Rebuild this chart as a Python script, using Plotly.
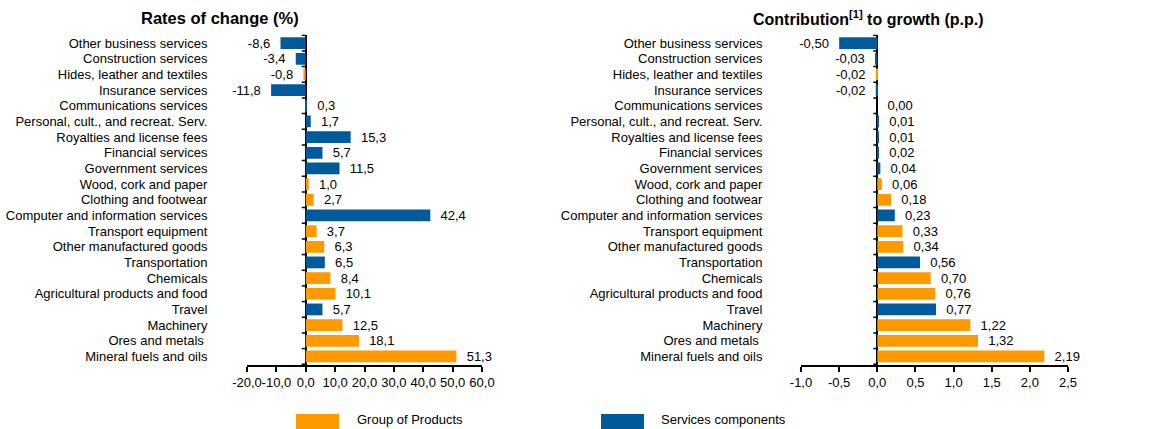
import plotly.graph_objects as go

categories = [
    "Other business services", "Construction services", "Hides, leather and textiles",
    "Insurance services", "Communications services", "Personal, cult., and recreat. Serv.",
    "Royalties and license fees", "Financial services", "Government services",
    "Wood, cork and paper", "Clothing and footwear", "Computer and information services",
    "Transport equipment", "Other manufactured goods", "Transportation", "Chemicals",
    "Agricultural products and food", "Travel", "Machinery", "Ores and metals ",
    "Mineral fuels and oils",
]
groups = ["S", "S", "P", "S", "S", "S", "S", "S", "S", "P", "P", "S",
          "P", "P", "S", "P", "P", "S", "P", "P", "P"]
rates = [-8.6, -3.4, -0.8, -11.8, 0.3, 1.7, 15.3, 5.7, 11.5, 1.0, 2.7, 42.4,
         3.7, 6.3, 6.5, 8.4, 10.1, 5.7, 12.5, 18.1, 51.3]
contrib = [-0.50, -0.03, -0.02, -0.02, 0.00, 0.01, 0.01, 0.02, 0.04, 0.06, 0.18, 0.23,
           0.33, 0.34, 0.56, 0.70, 0.76, 0.77, 1.22, 1.32, 2.19]

left_ticks = [-20, -10, 0, 10, 20, 30, 40, 50, 60]
left_ticktext = ["-20,0", "-10,0", "0,0", "10,0", "20,0", "30,0", "40,0", "50,0", "60,0"]
right_ticks = [-1.0, -0.5, 0.0, 0.5, 1.0, 1.5, 2.0, 2.5]
right_ticktext = ["-1,0", "-0,5", "0,0", "0,5", "1,0", "1,5", "2,0", "2,5"]

group_names = {"P": "Group of Products", "S": "Services components"}
colors = {"P": "#FF9900", "S": "#005A9C"}

W, H = 1156, 429
FONT = "Liberation Sans, Arial, sans-serif"
FS = 13
NB = "\u00a0"

def fmt(v, d):
    return (NB * 2) + f"{v:.{d}f}".replace(".", ",") + (NB * 2)

fig = go.Figure()

for g in ["P", "S"]:
    idx = [i for i, gg in enumerate(groups) if gg == g]
    fig.add_trace(go.Bar(
        y=[categories[i] for i in idx], x=[rates[i] for i in idx],
        orientation="h", marker=dict(color=colors[g], line=dict(width=0)),
        text=[fmt(rates[i], 1) for i in idx], textposition="outside",
        textfont=dict(size=FS, color="black", family=FONT), constraintext="none",
        cliponaxis=False, xaxis="x", yaxis="y", name=group_names[g], showlegend=False,
    ))
    fig.add_trace(go.Bar(
        y=[categories[i] for i in idx], x=[contrib[i] for i in idx],
        orientation="h", marker=dict(color=colors[g], line=dict(width=0)),
        text=[fmt(contrib[i], 2) for i in idx], textposition="outside",
        textfont=dict(size=FS, color="black", family=FONT), constraintext="none",
        cliponaxis=False, xaxis="x2", yaxis="y2", name=group_names[g], showlegend=False,
    ))

xd1 = [247 / W, 482 / W]
xd2 = [801 / W, 1068 / W]
yd = [1 - 365 / H, 1 - 34.5 / H]

r1 = [-20, 60]
r2 = [-1.0, 2.5]

xax = dict(showgrid=False, zeroline=True, zerolinecolor="black", zerolinewidth=1.5,
           showline=True, linecolor="black", linewidth=1.5,
           ticks="outside", ticklen=5, tickcolor="black", tickwidth=1.5, tickangle=0,
           tickfont=dict(size=FS, family=FONT, color="black"), fixedrange=True,
           automargin=False)
yax = dict(showgrid=False, zeroline=False, showline=False, ticks="outside", ticklen=4,
           tickcolor="rgba(0,0,0,0)",
           tickmode="array", tickvals=categories, ticktext=categories,
           tickfont=dict(size=FS, family=FONT, color="black"), autorange="reversed",
           type="category", categoryorder="array", categoryarray=categories,
           automargin=False, fixedrange=True)

fig.update_layout(
    template="none",
    width=W, height=H, autosize=False, margin=dict(l=0, r=0, t=0, b=0, pad=0),
    plot_bgcolor="white", paper_bgcolor="white",
    barmode="overlay", bargap=0.25,
    font=dict(family=FONT, size=FS, color="black"),
    xaxis=dict(xax, domain=xd1, range=r1, tickvals=left_ticks, ticktext=left_ticktext,
               anchor="y"),
    xaxis2=dict(xax, domain=xd2, range=r2, tickvals=right_ticks, ticktext=right_ticktext,
                anchor="y2"),
    yaxis=dict(yax, domain=yd, anchor="x", ticklabelstandoff=32),
    yaxis2=dict(yax, domain=yd, anchor="x2", ticklabelstandoff=31),
    showlegend=False,
)

# category boundary tick marks on the zero line
for xr, yr in [("x", "y"), ("x2", "y2")]:
    for i in range(len(categories) + 1):
        fig.add_shape(type="line", xref=xr, yref=yr, xsizemode="pixel", xanchor=0,
                      x0=-4, x1=0, y0=i - 0.5, y1=i - 0.5,
                      line=dict(color="black", width=1.5))

# titles
fig.add_annotation(text="<b>Rates of change (%)</b>", x=220 / W, y=1 - 18 / H,
                   xref="paper", yref="paper", xanchor="center", yanchor="middle",
                   showarrow=False, font=dict(size=16.5, family=FONT, color="black"))
fig.add_annotation(text="<b>Contribution<sup>[1]</sup> to growth (p.p.)</b>", x=868 / W,
                   y=1 - 18 / H, xref="paper", yref="paper", xanchor="center",
                   yanchor="middle", showarrow=False,
                   font=dict(size=16, family=FONT, color="black"))

# legend (drawn)
for g, x0, tx in [("P", 296, 355), ("S", 601, 659)]:
    fig.add_shape(type="rect", xref="paper", yref="paper",
                  x0=x0 / W, x1=(x0 + 43) / W, y0=0, y1=1 - 414 / H,
                  fillcolor=colors[g], line=dict(width=0))
    fig.add_annotation(text=group_names[g], x=tx / W, y=1 - 419 / H, xref="paper",
                       yref="paper", xanchor="left", yanchor="middle", showarrow=False,
                       font=dict(size=FS, family=FONT, color="black"))

fig.write_html("out.html", config={"displayModeBar": False},
               post_script="document.body.style.margin='0';")
